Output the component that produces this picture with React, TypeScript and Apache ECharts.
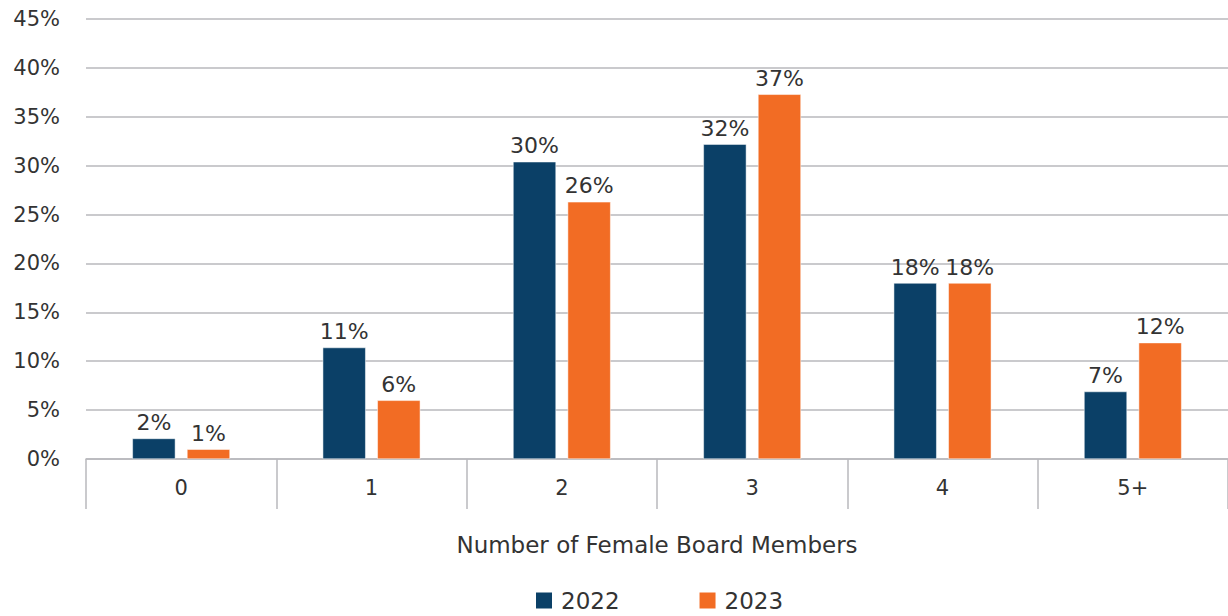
import React, { useEffect, useRef } from "react";
import * as echarts from "echarts";

const categories = ["0", "1", "2", "3", "4", "5+"];
const series2022 = [2.1, 11.4, 30.4, 32.2, 18.0, 6.9];
const series2023 = [1.0, 6.0, 26.3, 37.3, 18.0, 11.9];
const yTicks = [0, 5, 10, 15, 20, 25, 30, 35, 40, 45];

const FONT = "'DejaVu Sans', sans-serif";
const TEXT = "#333333";
const W = 400;

export default function App() {
  const ref = useRef<HTMLDivElement>(null);
  useEffect(() => {
    document.body.style.margin = "0";
    const chart = echarts.init(ref.current!, null, { renderer: "svg" });
    const label = {
      show: true,
      position: "top",
      distance: 5,
      color: TEXT,
      fontFamily: FONT,
      fontSize: 22,
      fontWeight: W,
      formatter: (p: any) => Math.round(p.value) + "%",
    };
    chart.setOption({
      animation: false,
      textStyle: { fontFamily: FONT },
      grid: { left: 86, right: 0, top: 19, height: 440 },
      legend: {
        bottom: -1,
        left: 529,
        itemWidth: 18,
        itemHeight: 18,
        itemGap: 78,
        icon: "rect",
        textStyle: { color: TEXT, fontSize: 23, fontWeight: W, fontFamily: FONT, padding: [0, 0, 0, 3] },
      },
      xAxis: {
        type: "category",
        data: categories,
        name: "Number of Female Board Members",
        nameLocation: "middle",
        nameGap: 74,
        nameTextStyle: { color: TEXT, fontSize: 23, fontWeight: W, fontFamily: FONT },
        axisLine: { lineStyle: { color: "#b8b8bc", width: 1.5 } },
        axisTick: { show: true, length: 50, lineStyle: { color: "#b8b8bc", width: 1.5 } },
        axisLabel: { color: TEXT, fontSize: 21, fontWeight: W, margin: 18, fontFamily: FONT },
      },
      yAxis: {
        type: "value",
        min: yTicks[0],
        max: yTicks[yTicks.length - 1],
        interval: 5,
        axisLine: { show: false },
        axisTick: { show: false },
        axisLabel: {
          color: TEXT,
          fontSize: 21,
          fontWeight: W,
          margin: 26,
          fontFamily: FONT,
          formatter: (v: number) => v + "%",
        },
        splitLine: { lineStyle: { color: "#b8b8bc", width: 1.5 } },
      },
      series: [
        {
          name: "2022",
          type: "bar",
          data: series2022,
          barWidth: 43,
          barGap: "27%",
          itemStyle: { color: "#0b4067", borderColor: "#ffffff", borderWidth: 0.5 },
          label,
        },
        {
          name: "2023",
          type: "bar",
          data: series2023,
          barWidth: 43,
          itemStyle: { color: "#f26c24", borderColor: "#ffffff", borderWidth: 0.5 },
          label,
        },
      ],
    });
    return () => chart.dispose();
  }, []);
  return <div ref={ref} style={{ width: 1228, height: 616 }} />;
}
